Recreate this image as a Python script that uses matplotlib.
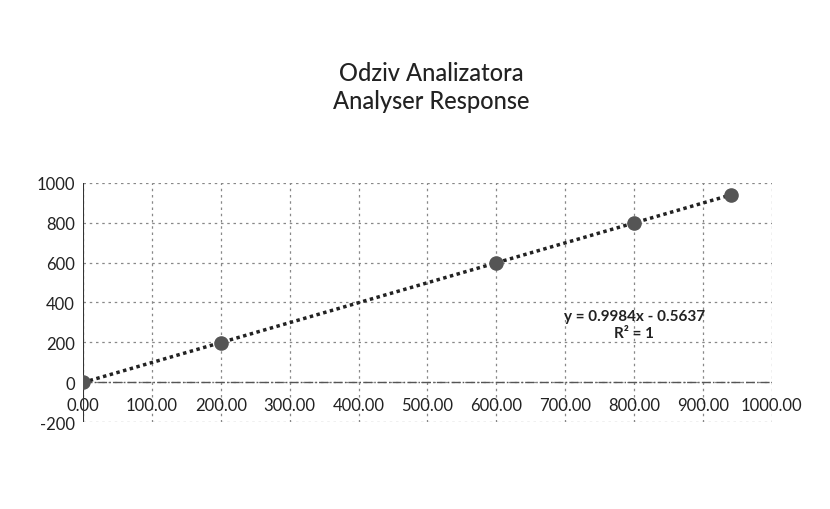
import matplotlib
matplotlib.use("Agg")
import matplotlib.pyplot as plt
import numpy as np

x_vals = [0, 200, 600, 800, 940]
y_vals = [0, 199, 598, 798, 938]
slope = 0.9984
intercept = -0.5637
x_ticks = [0, 100, 200, 300, 400, 500, 600, 700, 800, 900, 1000]
y_ticks = [-200, 0, 200, 400, 600, 800, 1000]
title_lines = ["Odziv Analizatora", "Analyser Response"]
eq_text = "y = 0.9984x - 0.5637\nR² = 1"

plt.rcParams['font.family'] = ['Lato', 'DejaVu Sans']

fig = plt.figure(figsize=(8.3, 5.1), dpi=100)
ax = fig.add_axes([0.10, 0.17, 0.83, 0.47])

ax.set_xlim(0, 1000)
ax.set_ylim(-200, 1000)
ax.set_xticks(x_ticks)
ax.set_yticks(y_ticks)
ax.set_xticklabels([f"{v:.2f}" for v in x_ticks], fontsize=12, color="#222222")
ax.set_yticklabels([str(v) for v in y_ticks], fontsize=12, color="#222222")
ax.grid(True, color="#888888", linestyle=(0, (2, 3)), linewidth=0.9)
ax.set_axisbelow(True)
for s in ax.spines.values():
    s.set_visible(False)
ax.axhline(0, color="#555555", linewidth=1.0, linestyle="-.", zorder=1)
ax.axvline(0, color="#333333", linewidth=1.5, zorder=1)
ax.tick_params(length=0, pad=6)
ax.xaxis.set_ticks_position('bottom')
for lab in ax.get_xticklabels():
    lab.set_y(0.14)

xs = np.array([0, 1000])
ax.plot(xs * 0.94, slope * xs * 0.94 + intercept, color="#222222", linestyle=(0, (1, 1)), linewidth=2.5, zorder=2)
ax.scatter(x_vals, y_vals, s=90, color="#555555", zorder=3)

ax.text(800, 290, eq_text, ha="center", va="center", fontsize=11, fontweight="bold", color="#222222")

fig.text(0.52, 0.855, title_lines[0], ha="center", va="center", fontsize=17, fontweight="medium", color="#222222")
fig.text(0.52, 0.80, title_lines[1], ha="center", va="center", fontsize=17, fontweight="medium", color="#222222")

fig.savefig("out.png", dpi=100, facecolor="white")
